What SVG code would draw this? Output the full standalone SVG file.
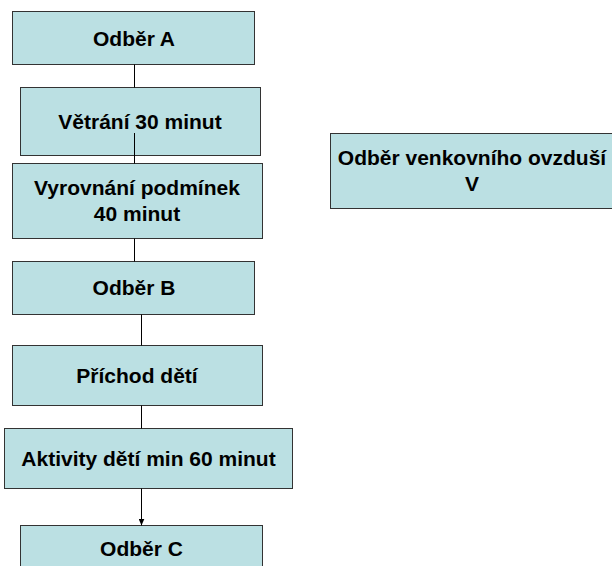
<svg xmlns="http://www.w3.org/2000/svg" width="612" height="566" viewBox="0 0 612 566">
  <style>
    .box { fill: #BBE0E3; stroke: #333333; stroke-width: 1; }
    .lbl { font-family: "Liberation Sans", Arial, sans-serif; font-weight: bold; font-size: 21px; fill: #000000; text-anchor: middle; }
    .conn { stroke: #000000; stroke-width: 1; fill: none; }
  </style>
  <defs>
    <marker id="arrow" viewBox="0 0 7 6" refX="7" refY="3" markerWidth="7" markerHeight="6" markerUnits="userSpaceOnUse" orient="auto">
      <path d="M0,0 L7,3 L0,6 Z" fill="#000000"/>
    </marker>
  </defs>

  <rect width="612" height="566" fill="#FFFFFF"/>

  <!-- nodes -->
  <g id="odber-a">
    <rect class="box" x="12.5" y="11.5" width="242" height="53"/>
    <text class="lbl" x="134" y="46">Odběr A</text>
  </g>
  <g id="vetrani">
    <rect class="box" x="20.5" y="87.5" width="240" height="68"/>
    <text class="lbl" x="140" y="128.5">Větrání 30 minut</text>
  </g>
  <g id="vyrovnani">
    <rect class="box" x="12.5" y="163.5" width="250" height="75"/>
    <text class="lbl" x="137" y="195">Vyrovnání podmínek</text>
    <text class="lbl" x="137" y="221">40 minut</text>
  </g>
  <g id="odber-b">
    <rect class="box" x="12.5" y="261.5" width="242" height="53"/>
    <text class="lbl" x="134" y="295">Odběr B</text>
  </g>
  <g id="prichod">
    <rect class="box" x="12.5" y="345.5" width="250" height="60"/>
    <text class="lbl" x="137" y="382.5">Příchod dětí</text>
  </g>
  <g id="aktivity">
    <rect class="box" x="4.5" y="428.5" width="288" height="60"/>
    <text class="lbl" x="148.5" y="465.5">Aktivity dětí min 60 minut</text>
  </g>
  <g id="odber-c">
    <rect class="box" x="20.5" y="525.5" width="242" height="53"/>
    <text class="lbl" x="141.5" y="556">Odběr C</text>
  </g>
  <g id="odber-v">
    <rect class="box" x="330.5" y="133.5" width="284" height="75"/>
    <text class="lbl" x="472" y="165">Odběr venkovního ovzduší</text>
    <text class="lbl" x="472" y="191">V</text>
  </g>

  <!-- connectors, drawn over the boxes -->
  <g id="connectors">
    <line class="conn" x1="134.5" y1="64.5" x2="134.5" y2="87.5"/>
    <line class="conn" x1="134.5" y1="133" x2="134.5" y2="163.5"/>
    <line class="conn" x1="134.5" y1="238.5" x2="134.5" y2="261.5"/>
    <line class="conn" x1="141.5" y1="314.5" x2="141.5" y2="345.5"/>
    <line class="conn" x1="141.5" y1="405.5" x2="141.5" y2="428.5"/>
    <line class="conn" x1="141.5" y1="488.5" x2="141.5" y2="525.5" marker-end="url(#arrow)"/>
  </g>
</svg>
